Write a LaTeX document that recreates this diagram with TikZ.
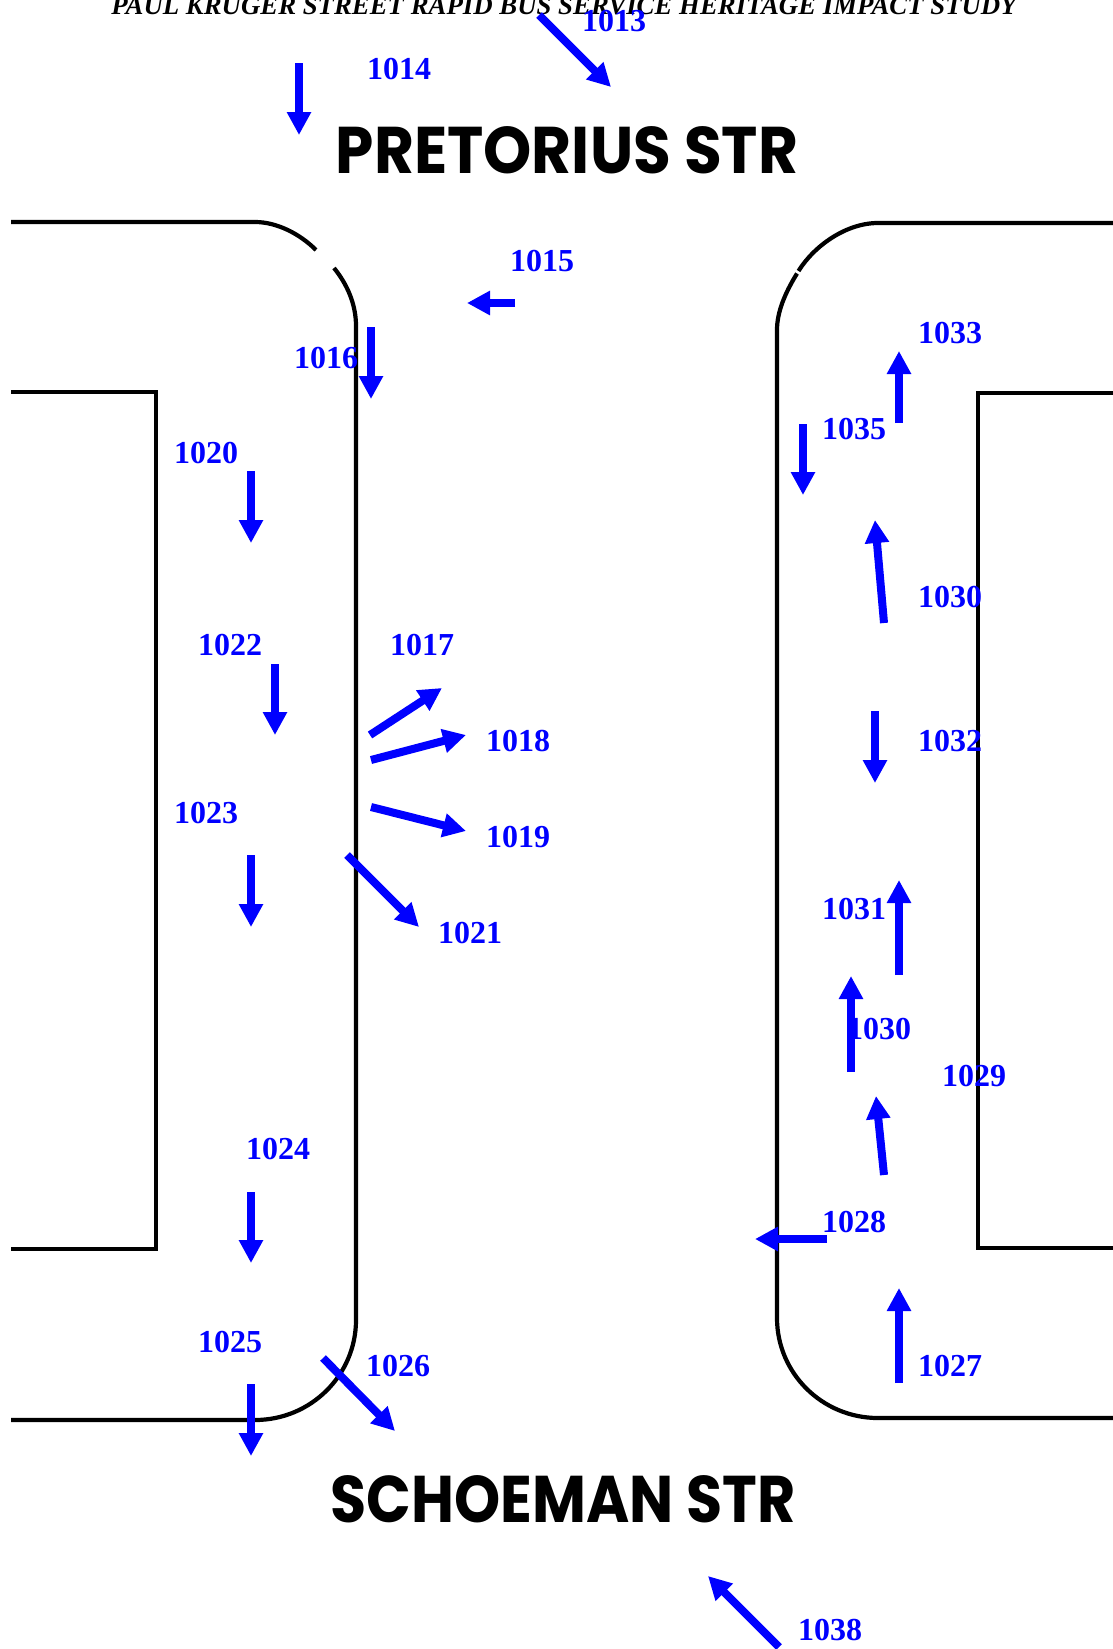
\documentclass[tikz,border=0pt]{standalone}
\usepackage{fontspec}
\setmainfont{Liberation Serif}
\newfontfamily\streetfont{Poppins}
\usetikzlibrary{arrows.meta}
\definecolor{flowblue}{RGB}{0,0,255}
\tikzset{
  road/.style={draw=black,line width=4.2pt,line join=miter},
  flow/.style={draw=flowblue,line width=8pt,-{Triangle[length=23pt,width=23pt,fill=flowblue]},shorten >=0pt},
  count/.style={text=flowblue,font=\fontsize{32}{32}\selectfont\bfseries,inner sep=0pt},
  street/.style={text=black,font=\streetfont\fontsize{66}{66}\selectfont\bfseries,inner sep=0pt},
  heading/.style={text=black,font=\fontsize{26.8}{26.8}\selectfont\bfseries\itshape,inner sep=0pt,anchor=base}
}
\begin{document}
\begin{tikzpicture}[x=1pt,y=-1pt]
\useasboundingbox (0,0) rectangle (1113,1649);
% road outlines
\draw[road] (11,222) -- (255,222) .. controls (277,222) and (300,234) .. (316,250);
\draw[road] (334,268) .. controls (347,284) and (356,304) .. (356,326) -- (356,1320)
  .. controls (356,1375) and (311,1420) .. (255,1420) -- (11,1420);
\draw[road] (11,392) -- (156,392) -- (156,1249) -- (11,1249);
\draw[road] (1113,223) -- (878,223) .. controls (846,223) and (814,246) .. (798.5,271);
\draw[road] (797,273.5) .. controls (785,293) and (777,312) .. (777,330) -- (777,1318)
  .. controls (777,1373) and (822,1418) .. (878,1418) -- (1113,1418);
\draw[road] (1113,393) -- (978,393) -- (978,1248) -- (1113,1248);
% street names
\node[street,xscale=0.93] (pretorius) at (567,150) {PRETORIUS STR};
\node[street,xscale=0.89] (schoeman) at (563,1499) {SCHOEMAN STR};
% heading
\node[heading] (title) at (564,14) {PAUL KRUGER STREET RAPID BUS SERVICE HERITAGE IMPACT STUDY};
% flows
\draw[flow] (539,15) -- (611,87);
\draw[flow] (299,63) -- (299,135);
\draw[flow] (515,303) -- (467,303);
\draw[flow] (371,327) -- (371,399);
\draw[flow] (251,471) -- (251,543);
\draw[flow] (275,664) -- (275,735);
\draw[flow] (251,855) -- (251,927);
\draw[flow] (251,1192) -- (251,1263);
\draw[flow] (251,1384) -- (251,1456);
\draw[flow] (323,1358) -- (395,1431);
\draw[flow] (779,1647) -- (708,1576);
\draw[flow] (370,735) -- (442,688);
\draw[flow] (371,760) -- (466,735);
\draw[flow] (371,807) -- (466,831);
\draw[flow] (347,855) -- (419,927);
\draw[flow] (899,423) -- (899,351);
\draw[flow] (803,424) -- (803,495);
\draw[flow] (884,623) -- (875,520);
\draw[flow] (875,711) -- (875,783);
\draw[flow] (899,975) -- (899,880);
\draw[flow] (851,1072) -- (851,976);
\draw[flow] (884,1175) -- (876,1096);
\draw[flow] (827,1239) -- (755,1239);
\draw[flow] (899,1383) -- (899,1288);
% counts
\node[count] (c1013) at (614,21) {1013};
\node[count] (c1014) at (399,69) {1014};
\node[count] (c1015) at (542,261) {1015};
\node[count] (c1016) at (326,358) {1016};
\node[count] (c1020) at (206,453) {1020};
\node[count] (c1022) at (230,645) {1022};
\node[count] (c1023) at (206,813) {1023};
\node[count] (c1024) at (278,1149) {1024};
\node[count] (c1025) at (230,1342) {1025};
\node[count] (c1026) at (398,1366) {1026};
\node[count] (c1017) at (422,645) {1017};
\node[count] (c1018) at (518,741) {1018};
\node[count] (c1019) at (518,837) {1019};
\node[count] (c1021) at (470,933) {1021};
\node[count] (c1033) at (950,333) {1033};
\node[count] (c1035) at (854,429) {1035};
\node[count] (c1030a) at (950,597) {1030};
\node[count] (c1032) at (950,741) {1032};
\node[count] (c1031) at (854,909) {1031};
\node[count] (c1030b) at (879,1029) {1030};
\node[count] (c1029) at (974,1076) {1029};
\node[count] (c1028) at (854,1222) {1028};
\node[count] (c1027) at (950,1366) {1027};
\node[count] (c1038) at (830,1630) {1038};
\end{tikzpicture}
\end{document}
